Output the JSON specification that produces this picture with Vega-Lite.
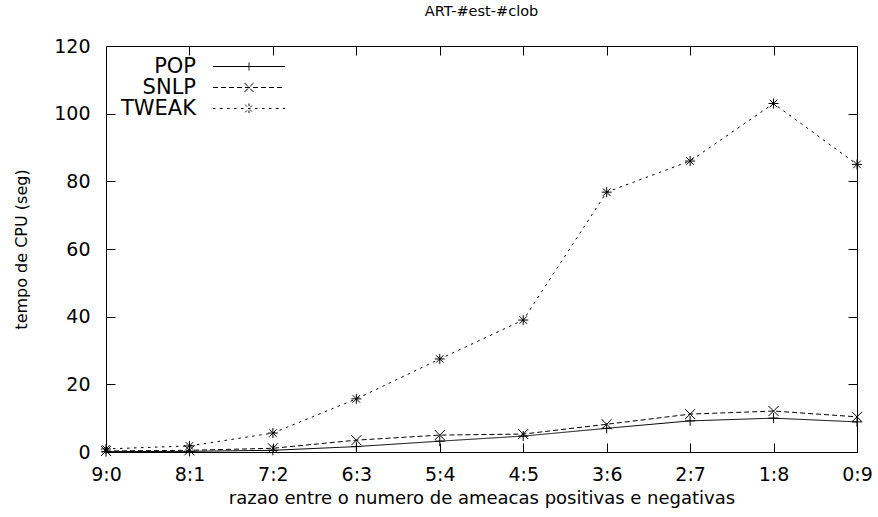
{
  "$schema": "https://vega.github.io/schema/vega-lite/v6.json",
  "width": 751,
  "height": 406,
  "autosize": "none",
  "padding": {"left": 106, "top": 46, "right": 21, "bottom": 65},
  "background": "white",
  "config": {
    "font": "DejaVu Sans",
    "view": {"stroke": "black", "strokeWidth": 1},
    "axis": {"grid": false, "domain": false, "tickColor": "black", "tickSize": -9, "tickWidth": 1, "labelColor": "black", "labelFontSize": 19, "titleFontSize": 18, "titleFontWeight": "normal", "titleColor": "black", "labelFont": "DejaVu Sans", "titleFont": "DejaVu Sans"},
    "legend": {"labelFont": "DejaVu Sans"}
  },
  "title": {"text": "ART-#est-#clob", "fontSize": 14.5, "fontWeight": "normal", "color": "black", "font": "DejaVu Sans", "offset": 18, "anchor": "middle"},
  "data": {"values": [
    {"razao": "9:0", "serie": "POP", "tempo": 0.1},
    {"razao": "8:1", "serie": "POP", "tempo": 0.2},
    {"razao": "7:2", "serie": "POP", "tempo": 0.5},
    {"razao": "6:3", "serie": "POP", "tempo": 1.6},
    {"razao": "5:4", "serie": "POP", "tempo": 3.2},
    {"razao": "4:5", "serie": "POP", "tempo": 4.7},
    {"razao": "3:6", "serie": "POP", "tempo": 7.0},
    {"razao": "2:7", "serie": "POP", "tempo": 9.2},
    {"razao": "1:8", "serie": "POP", "tempo": 10.0},
    {"razao": "0:9", "serie": "POP", "tempo": 8.9},
    {"razao": "9:0", "serie": "SNLP", "tempo": 0.3},
    {"razao": "8:1", "serie": "SNLP", "tempo": 0.5},
    {"razao": "7:2", "serie": "SNLP", "tempo": 1.1},
    {"razao": "6:3", "serie": "SNLP", "tempo": 3.5},
    {"razao": "5:4", "serie": "SNLP", "tempo": 5.0},
    {"razao": "4:5", "serie": "SNLP", "tempo": 5.3},
    {"razao": "3:6", "serie": "SNLP", "tempo": 8.2},
    {"razao": "2:7", "serie": "SNLP", "tempo": 11.2},
    {"razao": "1:8", "serie": "SNLP", "tempo": 12.1},
    {"razao": "0:9", "serie": "SNLP", "tempo": 10.4},
    {"razao": "9:0", "serie": "TWEAK", "tempo": 0.9},
    {"razao": "8:1", "serie": "TWEAK", "tempo": 1.8},
    {"razao": "7:2", "serie": "TWEAK", "tempo": 5.6},
    {"razao": "6:3", "serie": "TWEAK", "tempo": 15.7},
    {"razao": "5:4", "serie": "TWEAK", "tempo": 27.5},
    {"razao": "4:5", "serie": "TWEAK", "tempo": 39.0},
    {"razao": "3:6", "serie": "TWEAK", "tempo": 76.8},
    {"razao": "2:7", "serie": "TWEAK", "tempo": 86.0},
    {"razao": "1:8", "serie": "TWEAK", "tempo": 103.0},
    {"razao": "0:9", "serie": "TWEAK", "tempo": 85.0}
  ]},
  "resolve": {"axis": {"x": "independent", "y": "independent"}},
  "layer": [
    {
      "mark": {"type": "line", "color": "black", "strokeWidth": 1},
      "encoding": {
        "x": {"field": "razao", "type": "ordinal", "sort": ["9:0","8:1","7:2","6:3","5:4","4:5","3:6","2:7","1:8","0:9"], "scale": {"type": "point", "padding": 0},
              "axis": {"orient": "bottom", "labelAngle": 0, "labelPadding": 22, "title": "razao entre o numero de ameacas positivas e negativas", "titlePadding": 5}},
        "y": {"field": "tempo", "type": "quantitative", "scale": {"domain": [0, 120], "nice": false, "zero": true},
              "axis": {"orient": "left", "values": [0,20,40,60,80,100,120], "labelPadding": 25, "title": "tempo de CPU (seg)", "titleFontSize": 16, "titlePadding": 24}},
        "strokeDash": {"field": "serie", "type": "nominal", "scale": {"domain": ["POP","SNLP","TWEAK"], "range": [[1,0],[5,3],[2.5,4.5]]},
                       "legend": {"title": null, "orient": "none", "legendX": 132.5, "legendY": 10, "padding": 0, "symbolSize": 100, "symbolStrokeColor": "black", "symbolStrokeWidth": 1, "symbolFillColor": "transparent",
                                  "symbolType": {"expr": "datum.value === 'POP' ? 'M-7.2,0H7.2M0,-0.8V0.8' : datum.value === 'SNLP' ? 'M-7.2,0H7.2M-0.9,-0.9L0.9,0.9M-0.9,0.9L0.9,-0.9' : 'M-7.2,0H7.2M0,-1V1M-0.75,-0.75L0.75,0.75M-0.75,0.75L0.75,-0.75'"},
                                  "labelAlign": "right", "labelOffset": -63.5, "labelFontSize": 21, "labelColor": "black", "rowPadding": -7}}
      }
    },
    {
      "transform": [{"filter": "datum.serie === 'POP'"}],
      "mark": {"type": "point", "filled": false, "stroke": "black", "strokeWidth": 1, "opacity": 1, "size": 100, "shape": "M-1,0H1M0,-1V1"},
      "encoding": {
        "x": {"field": "razao", "type": "ordinal", "sort": ["9:0","8:1","7:2","6:3","5:4","4:5","3:6","2:7","1:8","0:9"],
              "axis": {"orient": "top", "labels": false, "title": null}},
        "y": {"field": "tempo", "type": "quantitative",
              "axis": {"orient": "right", "values": [0,20,40,60,80,100,120], "labels": false, "title": null}}
      }
    },
    {
      "transform": [{"filter": "datum.serie === 'SNLP'"}],
      "mark": {"type": "point", "filled": false, "stroke": "black", "strokeWidth": 1, "opacity": 1, "size": 100, "shape": "M-1,-1L1,1M-1,1L1,-1"},
      "encoding": {
        "x": {"field": "razao", "type": "ordinal", "sort": ["9:0","8:1","7:2","6:3","5:4","4:5","3:6","2:7","1:8","0:9"], "axis": null},
        "y": {"field": "tempo", "type": "quantitative", "axis": null}
      }
    },
    {
      "transform": [{"filter": "datum.serie === 'TWEAK'"}],
      "mark": {"type": "point", "filled": false, "stroke": "black", "strokeWidth": 1, "opacity": 1, "size": 100, "shape": "M-1,0H1M0,-1V1M-0.75,-0.75L0.75,0.75M-0.75,0.75L0.75,-0.75"},
      "encoding": {
        "x": {"field": "razao", "type": "ordinal", "sort": ["9:0","8:1","7:2","6:3","5:4","4:5","3:6","2:7","1:8","0:9"], "axis": null},
        "y": {"field": "tempo", "type": "quantitative", "axis": null}
      }
    }
  ]
}
